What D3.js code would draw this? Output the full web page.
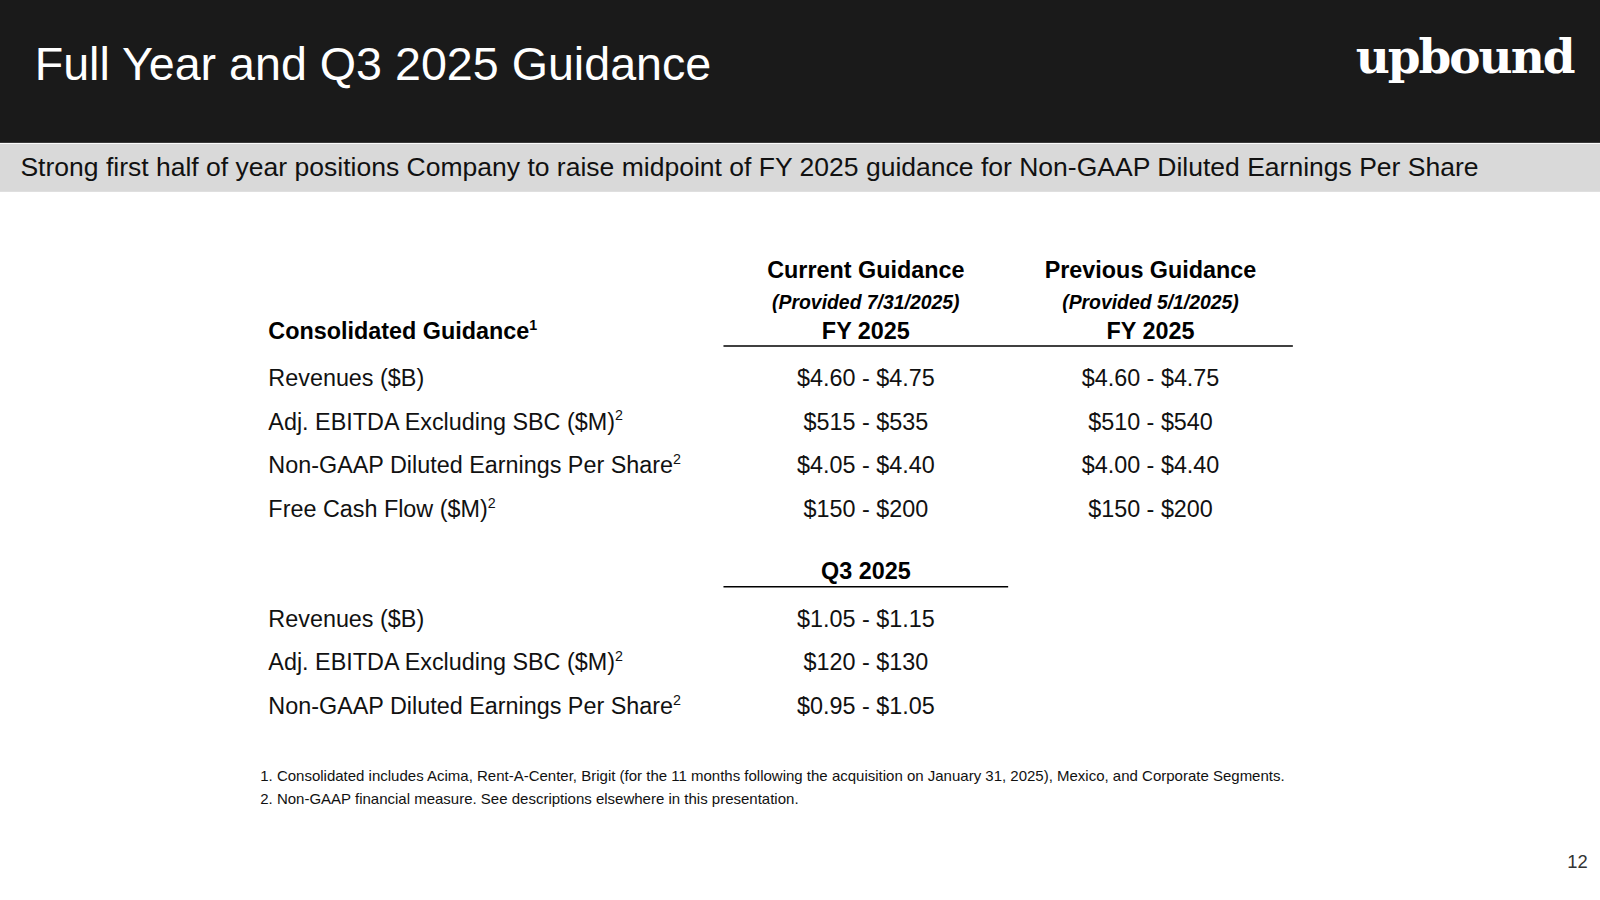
<!DOCTYPE html>
<html><head><meta charset="utf-8">
<script src="https://cdn.jsdelivr.net/npm/d3@7"></script>
<style>body{margin:0;background:#fff}svg{display:block}</style>
</head><body>
<script>
const title = "Full Year and Q3 2025 Guidance";
const subtitle = "Strong first half of year positions Company to raise midpoint of FY 2025 guidance for Non-GAAP Diluted Earnings Per Share";
const columns = ["Current Guidance", "Previous Guidance"];
const provided = ["(Provided 7/31/2025)", "(Provided 5/1/2025)"];
const fyLabels = ["Revenues ($B)", "Adj. EBITDA Excluding SBC ($M)", "Non-GAAP Diluted Earnings Per Share", "Free Cash Flow ($M)"];
const fySup = ["", "2", "2", "2"];
const fyCurrent = ["$4.60 - $4.75", "$515 - $535", "$4.05 - $4.40", "$150 - $200"];
const fyPrevious = ["$4.60 - $4.75", "$510 - $540", "$4.00 - $4.40", "$150 - $200"];
const q3Labels = ["Revenues ($B)", "Adj. EBITDA Excluding SBC ($M)", "Non-GAAP Diluted Earnings Per Share"];
const q3Sup = ["", "2", "2"];
const q3Values = ["$1.05 - $1.15", "$120 - $130", "$0.95 - $1.05"];
const footnotes = ["1. Consolidated includes Acima, Rent-A-Center, Brigit (for the 11 months following the acquisition on January 31, 2025), Mexico, and Corporate Segments.",
 "2. Non-GAAP financial measure. See descriptions elsewhere in this presentation."];

const W=1568,H=882;
const svg=d3.select("body").append("svg").attr("width",1600).attr("height",900).attr("viewBox",`0 0 ${W} ${H}`).style("font-family","Liberation Sans, Arial, sans-serif");
svg.append("rect").attr("width",W).attr("height",140).attr("fill","#1a1a1a");
svg.append("text").attr("x",34).attr("y",78).attr("font-size",45.7).attr("fill","#fff").text(title);
svg.append("text").attr("x",1542).attr("y",72).attr("text-anchor","end").attr("font-size",46).attr("font-weight","bold").attr("font-family","DejaVu Serif, serif").attr("fill","#fff").attr("letter-spacing",-2).text("upbound");
svg.append("rect").attr("y",141).attr("width",W).attr("height",47).attr("fill","#d9d9d9");
svg.append("text").attr("x",20).attr("y",172).attr("font-size",26).attr("fill","#111").text(subtitle);

const x=d3.scaleBand().domain(columns).range([709,1267]);
const cx=c=>x(c)+x.bandwidth()/2;
const lx=263;
const fs=22.9;
columns.forEach((c,i)=>{
  svg.append("text").attr("x",cx(c)).attr("y",272).attr("text-anchor","middle").attr("font-size",fs).attr("font-weight","bold").text(c);
  svg.append("text").attr("x",cx(c)).attr("y",303).attr("text-anchor","middle").attr("font-size",19).attr("font-weight","bold").attr("font-style","italic").text(provided[i]);
  svg.append("text").attr("x",cx(c)).attr("y",332).attr("text-anchor","middle").attr("font-size",fs).attr("font-weight","bold").text("FY 2025");
});
const ch=svg.append("text").attr("x",lx).attr("y",332).attr("font-size",fs).attr("font-weight","bold").text("Consolidated Guidance");
ch.append("tspan").attr("font-size",14).attr("dy",-9).text("1");
svg.append("line").attr("x1",709).attr("x2",1267).attr("y1",339).attr("y2",339).attr("stroke","#000").attr("stroke-width",1.5);

function rows(labels,sups,vals,yr){
  const y=d3.scalePoint().domain(d3.range(labels.length)).range(yr);
  labels.forEach((l,i)=>{
    const t=svg.append("text").attr("x",lx).attr("y",y(i)).attr("font-size",fs).attr("fill","#111").text(l);
    if(sups[i]) t.append("tspan").attr("font-size",14).attr("dy",-9).text(sups[i]);
    vals.forEach((v,j)=>svg.append("text").attr("x",cx(columns[j])).attr("y",y(i)).attr("text-anchor","middle").attr("font-size",fs).attr("fill","#111").text(v[i]));
  });
}
rows(fyLabels,fySup,[fyCurrent,fyPrevious],[378,507]);
svg.append("text").attr("x",cx(columns[0])).attr("y",567).attr("text-anchor","middle").attr("font-size",fs).attr("font-weight","bold").text("Q3 2025");
svg.append("line").attr("x1",709).attr("x2",988).attr("y1",575).attr("y2",575).attr("stroke","#000").attr("stroke-width",1.5);
rows(q3Labels,q3Sup,[q3Values],[614,700]);

footnotes.forEach((f,i)=>svg.append("text").attr("x",255).attr("y",765+i*23).attr("font-size",14.7).attr("fill","#111").text(f));
svg.append("text").attr("x",1556).attr("y",851).attr("text-anchor","end").attr("font-size",18).attr("fill","#333").text("12");
</script>
</body></html>
